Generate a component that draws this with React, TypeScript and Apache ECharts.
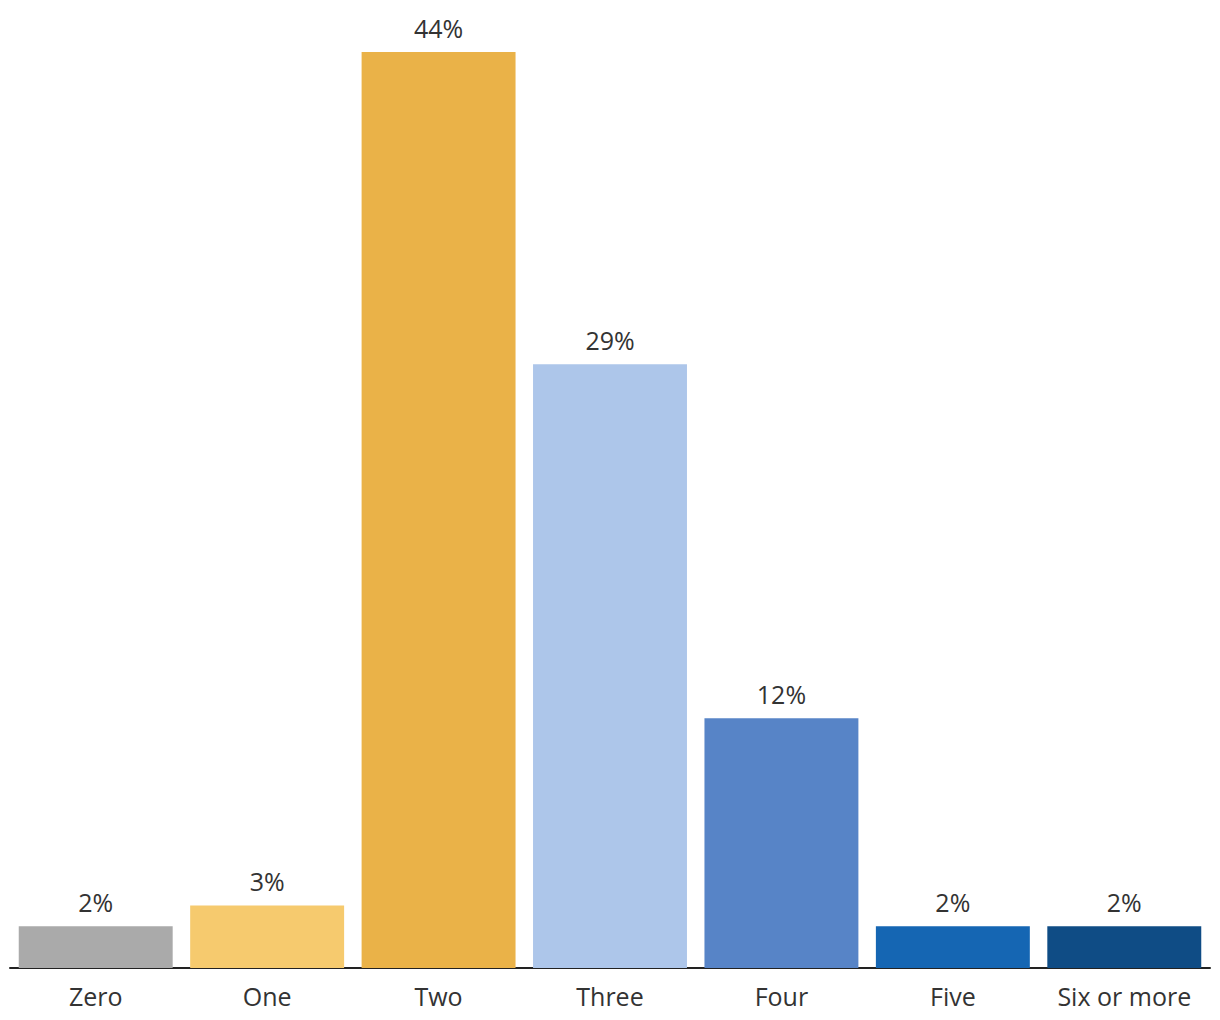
import React, { useEffect, useRef } from "react";
import * as echarts from "echarts";

const categories = ["Zero", "One", "Two", "Three", "Four", "Five", "Six or more"];
const values = [2, 3, 44, 29, 12, 2, 2];
const colors = ["#aaaaaa", "#f6ca6e", "#eab248", "#adc6ea", "#5784c7", "#1566b3", "#0f4c85"];

const FONT = "'Open Sans', Roboto, sans-serif";

export default function App() {
  const ref = useRef<HTMLDivElement>(null);
  useEffect(() => {
    document.body.style.margin = "0";
    const chart = echarts.init(ref.current!, undefined, { renderer: "svg" });
    chart.setOption({
      animation: false,
      grid: { left: 10, right: 10, top: 52, bottom: 52, containLabel: false },
      xAxis: {
        type: "category",
        data: categories,
        axisLine: { show: true, lineStyle: { color: "#222", width: 2 } },
        axisTick: { show: false },
        axisLabel: {
          color: "#333",
          fontSize: 25,
          fontFamily: FONT,
          margin: 15,
          interval: 0,
        },
      },
      yAxis: {
        type: "value",
        min: 0,
        max: 44,
        show: false,
        splitLine: { show: false },
      },
      series: [
        {
          type: "bar",
          barCategoryGap: "10.2%",
          data: values.map((v, i) => ({ value: v, itemStyle: { color: colors[i] } })),
          label: {
            show: true,
            position: "top",
            distance: 12,
            formatter: "{c}%",
            color: "#333",
            fontSize: 25,
            fontFamily: FONT,
          },
        },
      ],
    });
    return () => chart.dispose();
  }, []);
  return <div ref={ref} style={{ width: 1220, height: 1020 }} />;
}
